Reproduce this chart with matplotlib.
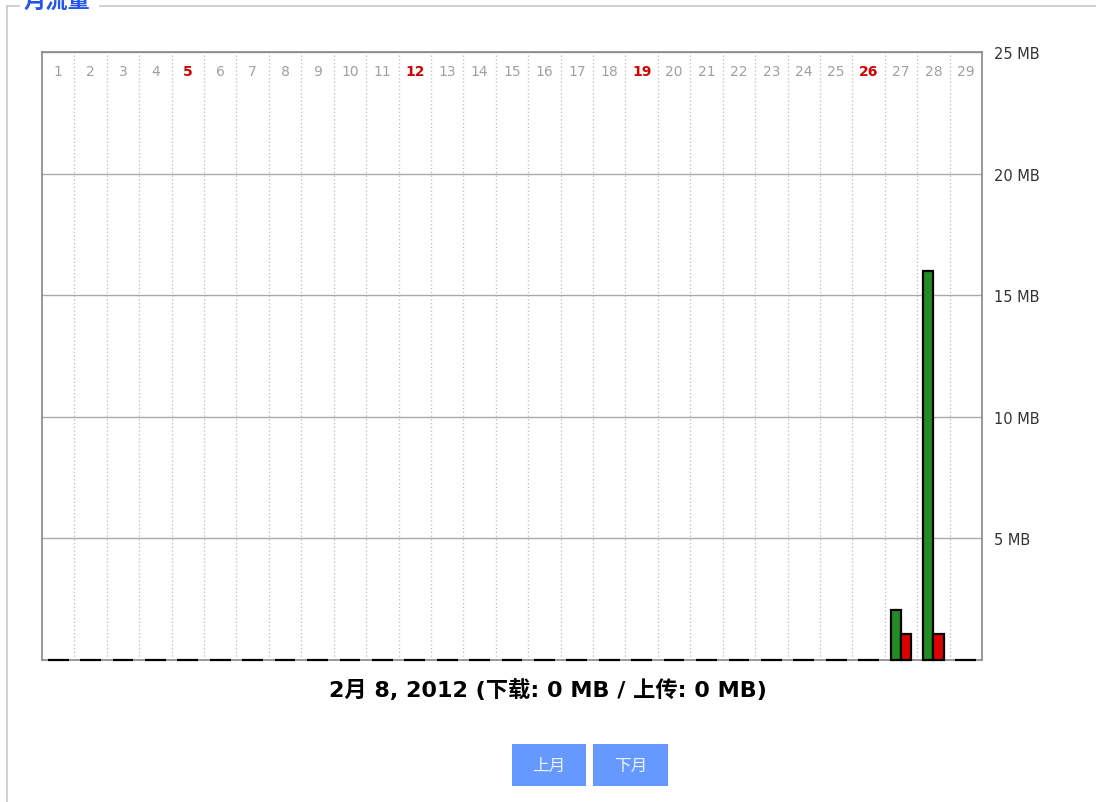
import matplotlib.pyplot as plt
import matplotlib.patches as mpatches
import matplotlib.lines as mlines
import numpy as np

plt.rcParams['font.family'] = ['DejaVu Sans', 'Noto Sans CJK SC']

# daily traffic, Feb 2012 (MB)
days = list(range(1, 30))
download_mb = [0] * 26 + [2.05, 16.0, 0]
upload_mb = [0] * 26 + [1.05, 1.05, 0]
red_days = [5, 12, 19, 26]
y_ticks = [5, 10, 15, 20, 25]
y_labels = ['5 MB', '10 MB', '15 MB', '20 MB', '25 MB']
title = '月流量'
summary = '2月 8, 2012 (下载: 0 MB / 上传: 0 MB)'
buttons = ['上月', '下月']

W, H = 1096, 803
fig = plt.figure(figsize=(W / 100, H / 100), dpi=100)
fig.patch.set_facecolor('white')


def fx(px):
    return px / W


def fy(py):
    return 1 - py / H


# fieldset frame
frame_col = '#c8c8c8'
fig.add_artist(mlines.Line2D([fx(7), fx(7)], [fy(7), 0], color=frame_col, lw=1.2))
fig.add_artist(mlines.Line2D([fx(7), fx(19)], [fy(7), fy(7)], color=frame_col, lw=1.2))
fig.add_artist(mlines.Line2D([fx(100), 1], [fy(7), fy(7)], color=frame_col, lw=1.2))
fig.text(fx(24), fy(2), title, color='#2255ee', fontsize=16, fontweight='bold',
         ha='left', va='center', family='Noto Sans CJK SC')

# chart
ax = fig.add_axes([fx(42), fy(661), fx(982) - fx(42), fy(53) - fy(661)])
x = np.array(days)
bw = 0.32
ax.bar(x - bw / 2, download_mb, width=bw, color='#228b22', edgecolor='black',
       linewidth=1.6, clip_on=False, zorder=3)
ax.bar(x + bw / 2, upload_mb, width=bw, color='#dd0000', edgecolor='black',
       linewidth=1.6, clip_on=False, zorder=3)

ax.set_xlim(0.5, 29.5)
ax.set_ylim(0, 25)

ax.xaxis.tick_top()
ax.set_xticks(days)
ax.set_xticklabels([str(d) for d in days])
ax.tick_params(axis='x', length=0, pad=-19, labelsize=10, labelcolor='#a0a0a0')
for lbl, d in zip(ax.get_xticklabels(), days):
    if d in red_days:
        lbl.set_color('#cc0000')
        lbl.set_fontweight('bold')
ax.set_xticks(np.arange(1.5, 29.5, 1), minor=True)
ax.tick_params(axis='x', which='minor', length=0)
ax.grid(True, axis='x', which='minor', linestyle=(0, (1, 2)), color='#bbbbbb', lw=0.9)

ax.yaxis.tick_right()
ax.set_yticks(y_ticks)
ax.set_yticklabels(y_labels)
ax.tick_params(axis='y', length=0, pad=9, labelsize=10.5, labelcolor='#333333')
ax.grid(True, axis='y', color='#aaaaaa', lw=1)
ax.set_axisbelow(True)
for s in ax.spines.values():
    s.set_color('#888888')
    s.set_linewidth(1.2)

# summary line
fig.text(fx(548), fy(690), summary, fontsize=16, fontweight='bold', color='black',
         ha='center', va='center')

# buttons
for (x0, x1), txt in zip([(512, 586), (593, 668)], buttons):
    fig.add_artist(mpatches.Rectangle((fx(x0), fy(787)), fx(x1) - fx(x0), fy(745) - fy(787),
                                      facecolor='#6699ff', edgecolor='none'))
    fig.text(fx((x0 + x1) / 2), fy(766), txt, fontsize=12, color='#eef3ff',
             ha='center', va='center', family='Noto Sans CJK SC')

fig.savefig('out.png', dpi=100)
